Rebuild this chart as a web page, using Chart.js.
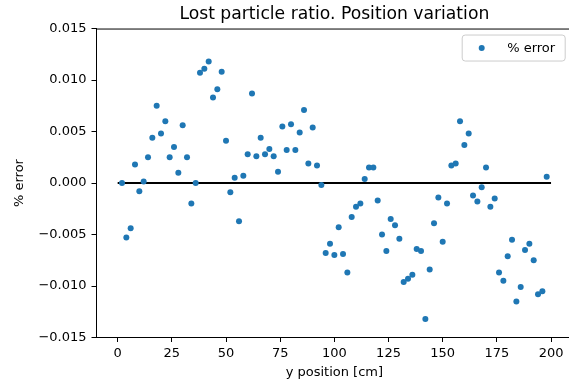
<!DOCTYPE html>
<html>
<head>
<meta charset="utf-8">
<script src="https://cdn.jsdelivr.net/npm/chart.js@4/dist/chart.umd.min.js"></script>
<style>
  html, body { margin: 0; padding: 0; background: #fff; overflow: hidden; width: 569px; height: 385px; }
  canvas { display: block; }
</style>
</head>
<body>
<canvas id="c" width="569" height="385"></canvas>
<script>
// ---- data ----
const positions = [
  2, 4, 6, 8, 10, 12, 14, 16, 18, 20, 22, 24, 26, 28, 30, 32, 34, 36, 38, 40,
  42, 44, 46, 48, 50, 52, 54, 56, 58, 60, 62, 64, 66, 68, 70, 72, 74, 76, 78, 80,
  82, 84, 86, 88, 90, 92, 94, 96, 98, 100, 102, 104, 106, 108, 110, 112, 114, 116, 118, 120,
  122, 124, 126, 128, 130, 132, 134, 136, 138, 140, 142, 144, 146, 148, 150, 152, 154, 156, 158, 160,
  162, 164, 166, 168, 170, 172, 174, 176, 178, 180, 182, 184, 186, 188, 190, 192, 194, 196, 198
];
const errors = [
  0.0000, -0.0053, -0.0044, 0.0018, -0.0008, 0.00015, 0.0025, 0.0044, 0.0075, 0.0048,
  0.0060, 0.0025, 0.0035, 0.0010, 0.0056, 0.0025, -0.0020, 0.0000, 0.0107, 0.0111,
  0.0118, 0.0083, 0.0091, 0.0108, 0.0041, -0.0009, 0.0005, -0.0037, 0.0007, 0.0028,
  0.0087, 0.0026, 0.0044, 0.0028, 0.0033, 0.0026, 0.0011, 0.0055, 0.0032, 0.0057,
  0.0032, 0.0049, 0.0071, 0.0019, 0.0054, 0.0017, -0.0002, -0.0068, -0.0059, -0.0070,
  -0.0043, -0.0069, -0.0087, -0.0033, -0.0023, -0.0020, 0.0004, 0.0015, 0.0015, -0.0017,
  -0.0050, -0.0066, -0.0035, -0.0041, -0.0054, -0.0096, -0.0093, -0.0089, -0.0064, -0.0066,
  -0.0132, -0.0084, -0.0039, -0.0014, -0.0057, -0.0020, 0.0017, 0.0019, 0.0060, 0.0037,
  0.0048, -0.0012, -0.0018, -0.0004, 0.0015, -0.0023, -0.0015, -0.0087, -0.0095, -0.0071,
  -0.0055, -0.0115, -0.0101, -0.0065, -0.0059, -0.0075, -0.0108, -0.0105, 0.0006
];
const refLineX = [0, 200];
const refLineY = [0, 0];
const xTicks = [0, 25, 50, 75, 100, 125, 150, 175, 200];
const yTicks = [-0.015, -0.010, -0.005, 0.000, 0.005, 0.010, 0.015];
const yTickLabels = ["\u22120.015", "\u22120.010", "\u22120.005", "0.000", "0.005", "0.010", "0.015"];
const seriesLabel = "% error";
const titleText = "Lost particle ratio. Position variation";
const xTitle = "y position [cm]";
const yTitle = "% error";

// ---- chart ----
const FONT = "'DejaVu Sans', sans-serif";
const BLUE = "#1f77b4";
const AREA_RIGHT = 572.7; // axes frame extends slightly past the right edge of the picture

const scatterData = positions.map((x, i) => ({ x: x, y: errors[i] }));
const lineData = refLineX.map((x, i) => ({ x: x, y: refLineY[i] }));

const framePlugin = {
  id: 'frame',
  afterLayout(chart) {
    const a = chart.chartArea;
    a.right = AREA_RIGHT;
    a.width = a.right - a.left;
    const xs = chart.scales.x;
    xs.right = AREA_RIGHT;
    xs.width = xs.right - xs.left;
    xs.configure();
    const tb = chart.titleBlock;
    if (tb) { tb.right = AREA_RIGHT; tb.width = tb.right - tb.left; }
  },
  afterDraw(chart) {
    const { ctx, chartArea: a } = chart;
    ctx.save();
    ctx.strokeStyle = '#000';
    ctx.lineWidth = 1;
    ctx.beginPath();
    ctx.moveTo(a.left, a.top + 0.5);
    ctx.lineTo(a.right, a.top + 0.5);
    ctx.lineTo(a.right, a.bottom);
    ctx.stroke();

    // legend box (upper right, inside axes)
    const w = 103, h = 26;
    const lx = a.right - 7.5 - w, ly = a.top + 6.5;
    const r = 3;
    ctx.beginPath();
    ctx.moveTo(lx + r, ly);
    ctx.lineTo(lx + w - r, ly);
    ctx.arcTo(lx + w, ly, lx + w, ly + r, r);
    ctx.lineTo(lx + w, ly + h - r);
    ctx.arcTo(lx + w, ly + h, lx + w - r, ly + h, r);
    ctx.lineTo(lx + r, ly + h);
    ctx.arcTo(lx, ly + h, lx, ly + h - r, r);
    ctx.lineTo(lx, ly + r);
    ctx.arcTo(lx, ly, lx + r, ly, r);
    ctx.closePath();
    ctx.fillStyle = 'rgba(255,255,255,0.8)';
    ctx.fill();
    ctx.strokeStyle = '#cccccc';
    ctx.stroke();

    const ds = chart.data.datasets[0];
    ctx.fillStyle = BLUE;
    ctx.beginPath();
    ctx.arc(lx + 19.5, ly + h / 2, 3, 0, Math.PI * 2);
    ctx.fill();
    ctx.fillStyle = '#000';
    ctx.font = "13px " + FONT;
    ctx.textBaseline = 'middle';
    ctx.textAlign = 'left';
    ctx.fillText(ds.label, lx + 45, ly + h / 2 + 0.5);
    ctx.restore();
  }
};

new Chart(document.getElementById('c'), {
  type: 'scatter',
  data: {
    datasets: [
      {
        label: seriesLabel,
        data: scatterData,
        backgroundColor: BLUE,
        borderWidth: 0,
        pointRadius: 3,
        pointHoverRadius: 3,
        order: 1
      },
      {
        type: 'line',
        label: 'zero',
        data: lineData,
        borderColor: '#000',
        borderWidth: 2,
        pointRadius: 0,
        fill: false,
        order: 2
      }
    ]
  },
  options: {
    responsive: false,
    animation: false,
    events: [],
    layout: { padding: { left: 0, right: 0, top: 0, bottom: 0 } },
    plugins: {
      legend: { display: false },
      tooltip: { enabled: false },
      title: {
        display: true,
        text: titleText,
        fullSize: false,
        color: '#000',
        font: { family: FONT, size: 17.2, weight: 'normal' },
        padding: { top: 4.5, bottom: 3.4 }
      }
    },
    scales: {
      x: {
        type: 'linear',
        min: -10,
        max: 210,
        afterBuildTicks(scale) { scale.ticks = xTicks.map(v => ({ value: v })); },
        afterFit(scale) { scale.height = 47.5; },
        ticks: {
          color: '#000',
          font: { family: FONT, size: 13 },
          padding: 4,
          maxRotation: 0,
          autoSkip: false,
          callback: (v) => String(v)
        },
        grid: { display: true, drawOnChartArea: false, drawTicks: true, tickLength: 4.5, tickColor: '#000', tickWidth: 1 },
        border: { display: true, color: '#000', width: 1 },
        title: { display: true, text: xTitle, color: '#000', font: { family: FONT, size: 13 }, padding: { top: 0, bottom: 4.2 } }
      },
      y: {
        type: 'linear',
        min: -0.015,
        max: 0.015,
        afterBuildTicks(scale) { scale.ticks = yTicks.map(v => ({ value: v })); },
        afterFit(scale) { scale.width = 96; },
        ticks: {
          color: '#000',
          font: { family: FONT, size: 13 },
          padding: 5,
          autoSkip: false,
          callback: (v, i) => yTickLabels[yTicks.findIndex(t => Math.abs(t - v) < 1e-9)]
        },
        grid: { display: true, drawOnChartArea: false, drawTicks: true, tickLength: 4.5, tickColor: '#000', tickWidth: 1 },
        border: { display: true, color: '#000', width: 1 },
        title: { display: true, text: yTitle, color: '#000', font: { family: FONT, size: 13 }, padding: { top: 12.2, bottom: 0 } }
      }
    }
  },
  plugins: [framePlugin]
});
</script>
</body>
</html>
